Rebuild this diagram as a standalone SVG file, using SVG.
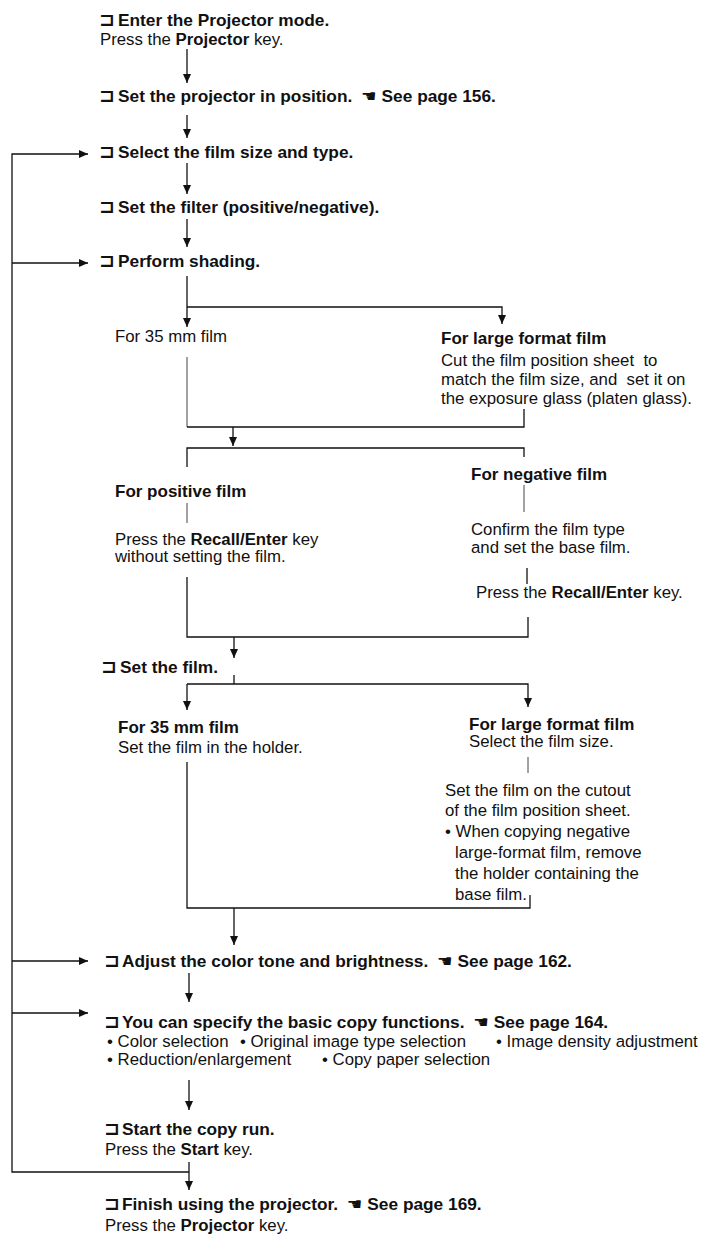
<svg xmlns="http://www.w3.org/2000/svg" width="711" height="1234" viewBox="0 0 711 1234">
  <defs>
    <style>
      text { fill: #111; font-family: "Liberation Sans", Arial, Helvetica, sans-serif; white-space: pre; }
      .h { font-size: 17.3px; font-weight: bold; }
      .t { font-size: 16.8px; }
      .sb { font-size: 17px; font-weight: bold; }
      .b { font-weight: bold; }
      .sym { font-family: "DejaVu Sans", sans-serif; font-size: 19px; font-weight: bold; }
      .ptr { font-family: "DejaVu Sans", sans-serif; font-weight: normal; }
      .ln { stroke: #111; stroke-width: 1.3; fill: none; }
      .fl { stroke: #444; stroke-width: 1; fill: none; }
    </style>
    <marker id="ah" viewBox="0 0 9 8" refX="9" refY="4" markerWidth="9" markerHeight="8" markerUnits="userSpaceOnUse" orient="auto">
      <path d="M0,0 L9,4 L0,8 Z" fill="#111"/>
    </marker>
  </defs>
  <rect width="711" height="1234" fill="#fff"/>

  <!-- connectors -->
  <g id="connectors">
    <!-- main flow -->
    <path class="ln" d="M187,49 V83" marker-end="url(#ah)"/>
    <path class="ln" d="M187,115 V138" marker-end="url(#ah)"/>
    <path class="ln" d="M187,163 V194" marker-end="url(#ah)"/>
    <path class="ln" d="M187,219 V247" marker-end="url(#ah)"/>
    <!-- film size split -->
    <path class="ln" d="M187,276 V327" marker-end="url(#ah)"/>
    <path class="ln" d="M187,307 H502 V324" marker-end="url(#ah)"/>
    <path class="fl" d="M187,357 V427"/>
    <path class="ln" d="M187,427 H524 V409"/>
    <path class="ln" d="M233,427 V446" marker-end="url(#ah)"/>
    <!-- positive / negative split -->
    <path class="ln" d="M187,467 V448 H524 V457"/>
    <path class="fl" d="M524,485 V512"/>
    <path class="fl" d="M187,503 V523"/>
    <path class="ln" d="M527,568 V584"/>
    <path class="ln" d="M187,577 V637 H528 V617"/>
    <path class="ln" d="M234,637 V658" marker-end="url(#ah)"/>
    <!-- set the film split -->
    <path class="ln" d="M234,675 V684"/>
    <path class="ln" d="M187,684 H528 V707" marker-end="url(#ah)"/>
    <path class="ln" d="M187,684 V710" marker-end="url(#ah)"/>
    <path class="fl" d="M528,757 V773"/>
    <path class="ln" d="M187,762 V908 H530 V895"/>
    <path class="ln" d="M234,908 V945" marker-end="url(#ah)"/>
    <!-- lower flow -->
    <path class="ln" d="M189,973 V1002" marker-end="url(#ah)"/>
    <path class="ln" d="M189,1080 V1110" marker-end="url(#ah)"/>
    <path class="ln" d="M189,1162 V1190" marker-end="url(#ah)"/>
    <!-- repeat loop -->
    <path class="ln" d="M189,1172 H12 V154 H88" marker-end="url(#ah)"/>
    <path class="ln" d="M12,263 H88" marker-end="url(#ah)"/>
    <path class="ln" d="M12,961 H88" marker-end="url(#ah)"/>
    <path class="ln" d="M12,1013 H88" marker-end="url(#ah)"/>
  </g>

  <g id="step-enter">
    <text class="sym" x="99" y="26">⊐</text>
    <text class="h" x="118" y="26">Enter the Projector mode.</text>
    <text class="t" x="100" y="45">Press the <tspan class="b">Projector</tspan> key.</text>
  </g>

  <g id="step-position">
    <text class="sym" x="99" y="102">⊐</text>
    <text class="h" x="118" y="102">Set the projector in position. <tspan class="ptr" dx="4">☚</tspan><tspan dx="5">See page 156.</tspan></text>
  </g>

  <g id="step-select">
    <text class="sym" x="99" y="158">⊐</text>
    <text class="h" x="118" y="158">Select the film size and type.</text>
  </g>

  <g id="step-filter">
    <text class="sym" x="99" y="213">⊐</text>
    <text class="h" x="118" y="213">Set the filter (positive/negative).</text>
  </g>

  <g id="step-shading">
    <text class="sym" x="99" y="267">⊐</text>
    <text class="h" x="118" y="267">Perform shading.</text>
  </g>

  <g id="shading-35mm">
    <text class="t" x="115" y="342">For 35 mm film</text>
  </g>

  <g id="shading-large">
    <text class="sb" x="441" y="344">For large format film</text>
    <text class="t" x="441" y="366">Cut the film position sheet  to</text>
    <text class="t" x="441" y="385">match the film size, and  set it on</text>
    <text class="t" x="441" y="404">the exposure glass (platen glass).</text>
  </g>

  <g id="film-positive">
    <text class="sb" x="115" y="497">For positive film</text>
    <text class="t" x="115" y="545">Press the <tspan class="b">Recall/Enter</tspan> key</text>
    <text class="t" x="115" y="562">without setting the film.</text>
  </g>

  <g id="film-negative">
    <text class="sb" x="471" y="480">For negative film</text>
    <text class="t" x="471" y="535">Confirm the film type</text>
    <text class="t" x="471" y="553">and set the base film.</text>
    <text class="t" x="476" y="598">Press the <tspan class="b">Recall/Enter</tspan> key.</text>
  </g>

  <g id="step-set-film">
    <text class="sym" x="101" y="673">⊐</text>
    <text class="h" x="120" y="673">Set the film.</text>
  </g>

  <g id="set-35mm">
    <text class="sb" x="118" y="733">For 35 mm film</text>
    <text class="t" x="118" y="753">Set the film in the holder.</text>
  </g>

  <g id="set-large">
    <text class="sb" x="469" y="730">For large format film</text>
    <text class="t" x="469" y="747">Select the film size.</text>
    <text class="t" x="445" y="796">Set the film on the cutout</text>
    <text class="t" x="445" y="816">of the film position sheet.</text>
    <text class="t" x="445" y="837">• When copying negative</text>
    <text class="t" x="455" y="858">large-format film, remove</text>
    <text class="t" x="455" y="879">the holder containing the</text>
    <text class="t" x="455" y="900">base film.</text>
  </g>

  <g id="step-adjust">
    <text class="sym" x="104" y="967">⊐</text>
    <text class="h" x="122" y="967">Adjust the color tone and brightness. <tspan class="ptr" dx="4">☚</tspan><tspan dx="5">See page 162.</tspan></text>
  </g>

  <g id="step-functions">
    <text class="sym" x="104" y="1028">⊐</text>
    <text class="h" x="122" y="1028">You can specify the basic copy functions. <tspan class="ptr" dx="4">☚</tspan><tspan dx="5">See page 164.</tspan></text>
    <text class="t" x="107" y="1047">• Color selection</text>
    <text class="t" x="240" y="1047">• Original image type selection</text>
    <text class="t" x="496" y="1047">• Image density adjustment</text>
    <text class="t" x="107" y="1065">• Reduction/enlargement</text>
    <text class="t" x="322" y="1065">• Copy paper selection</text>
  </g>

  <g id="step-start">
    <text class="sym" x="104" y="1135">⊐</text>
    <text class="h" x="122" y="1135">Start the copy run.</text>
    <text class="t" x="105" y="1155">Press the <tspan class="b">Start</tspan> key.</text>
  </g>

  <g id="step-finish">
    <text class="sym" x="104" y="1210">⊐</text>
    <text class="h" x="122" y="1210">Finish using the projector. <tspan class="ptr" dx="4">☚</tspan><tspan dx="5">See page 169.</tspan></text>
    <text class="t" x="105" y="1231">Press the <tspan class="b">Projector</tspan> key.</text>
  </g>
</svg>
